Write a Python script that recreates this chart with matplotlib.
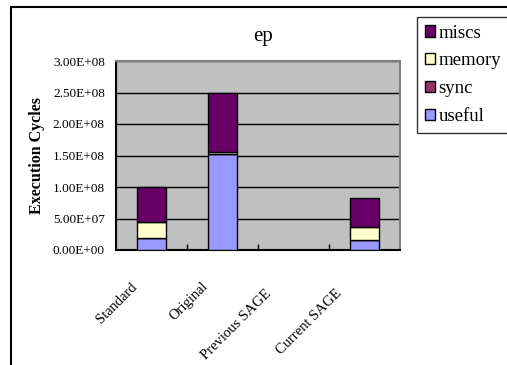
import matplotlib
matplotlib.use("Agg")
import matplotlib.pyplot as plt
import matplotlib.transforms as mtransforms
from matplotlib.patches import Rectangle
import numpy as np

categories = ["Standard", "Original", "Previous SAGE", "Current SAGE"]
useful = [1.9e7, 1.52e8, 0, 1.6e7]
sync = [0, 0, 0, 0]
memory = [2.5e7, 3.0e6, 0, 2.05e7]
miscs = [5.6e7, 9.45e7, 0, 4.6e7]

series = [("useful", useful, "#9999FF"),
          ("sync", sync, "#993366"),
          ("memory", memory, "#FFFFCC"),
          ("miscs", miscs, "#660066")]

plt.rcParams['font.family'] = ['Liberation Serif', 'DejaVu Serif']

fig = plt.figure(figsize=(5.07, 3.65), dpi=100)
W, H = 507, 365
ax = fig.add_axes([116 / W, 1 - 250 / H, 284 / W, 189 / H])
ax.set_facecolor("#C0C0C0")

x = np.arange(len(categories))
bottom = np.zeros(len(categories))
handles = []
for name, vals, color in series:
    vals = np.array(vals)
    b = ax.bar(x, vals, 0.4, bottom=bottom, color=color, edgecolor="black",
               linewidth=1, label=name, zorder=3)
    handles.append(b)
    bottom += vals

ax.set_xlim(-0.5, len(categories) - 0.5)
ax.set_ylim(0, 3e8)
yt = np.arange(0, 3.01e8, 5e7)
ax.set_yticks(yt, labels=[f"{v:.2E}" for v in yt])
ax.tick_params(axis="y", length=0, pad=8, labelsize=9.5)
ax.yaxis.grid(True, color="black", linewidth=1)
ax.set_axisbelow(True)

# category boundaries get the tick marks, names sit on minor ticks
ax.set_xticks(x[:-1] + 0.5, labels=[])
ax.tick_params(axis="x", which="major", direction="in", length=4, width=1)
ax.set_xticks(x, labels=categories, minor=True)
ax.tick_params(axis="x", which="minor", length=0, pad=0, labelsize=10.5)
for lab in ax.get_xticklabels(minor=True):
    # the two-word names hang a little lower
    dx, dy = (-20, -37) if " " in lab.get_text() else (-12, -30)
    offset = mtransforms.ScaledTranslation(dx / 100, dy / 100, fig.dpi_scale_trans)
    lab.set_rotation(45)
    lab.set_ha("right")
    lab.set_va("top")
    lab.set_transform(lab.get_transform() + offset)

for side in ("left", "bottom"):
    ax.spines[side].set_color("black")
    ax.spines[side].set_linewidth(1.5)
for side in ("top", "right"):
    ax.spines[side].set_color("#808080")
    ax.spines[side].set_linewidth(1.5)

ax.set_ylabel("Execution Cycles", fontsize=11.5, fontweight="bold")
ax.yaxis.set_label_coords(-0.25, 0.5)

fig.text(263 / W, 1 - 37 / H, "ep", ha="center", va="center", fontsize=15)

leg = fig.legend(handles[::-1], [s[0] for s in series][::-1],
                 loc="upper left", bbox_to_anchor=(417 / W, 1 - 17 / H),
                 borderaxespad=0, fontsize=13.5, frameon=True, fancybox=False,
                 handlelength=0.55, handleheight=0.55, handletextpad=0.2,
                 labelspacing=0.58, borderpad=0.4)
leg.get_frame().set_edgecolor("black")
leg.get_frame().set_linewidth(1)

# chart-area border
fig.patches.append(Rectangle((11 / W, -0.1), 1.0, 1.1 - 7 / H, fill=False,
                             edgecolor="black", linewidth=1.5,
                             transform=fig.transFigure))

fig.savefig("out.png", dpi=100)
